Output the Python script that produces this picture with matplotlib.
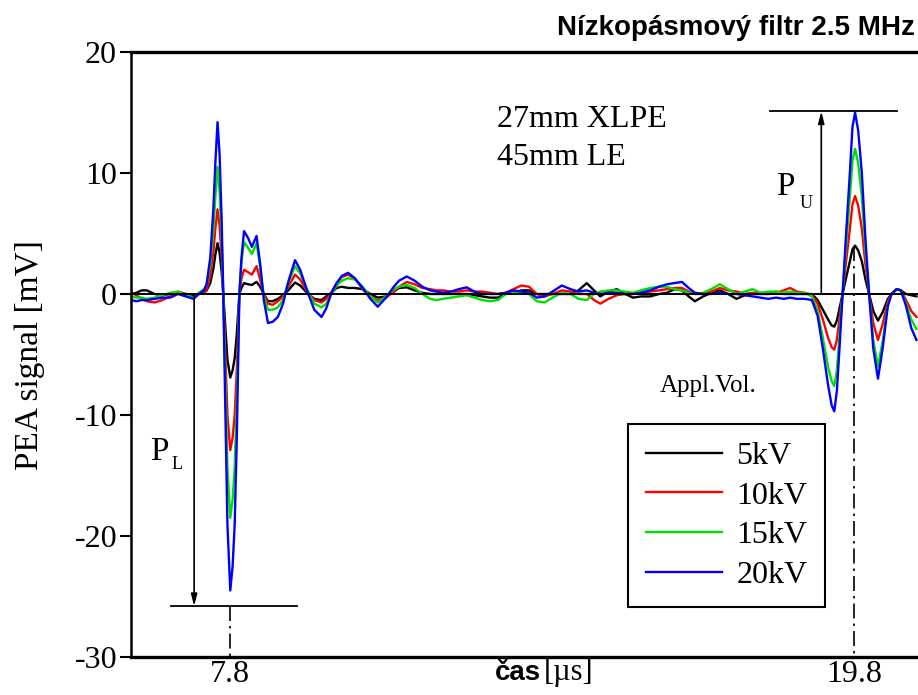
import matplotlib
matplotlib.use("Agg")
import matplotlib.pyplot as plt

plt.rcParams['axes.unicode_minus'] = False

# time axis [us], shared by all four traces
cas = [5.9, 6.0, 6.1, 6.2, 6.35, 6.5, 6.65, 6.8, 6.95, 7.1, 7.2, 7.3,
       7.35, 7.42, 7.48, 7.52, 7.56, 7.60, 7.64, 7.67,
       7.72, 7.75, 7.805, 7.85, 7.89, 7.93, 7.98,
       8.02, 8.07, 8.15, 8.22, 8.31, 8.38, 8.45, 8.53, 8.62, 8.72, 8.82, 8.92,
       9.05, 9.15, 9.28, 9.42, 9.56, 9.65, 9.75, 9.85, 9.95,
       10.07, 10.2, 10.35, 10.5, 10.64, 10.8, 10.95, 11.05, 11.2, 11.35, 11.5, 11.65, 11.77,
       11.9, 12.05, 12.2, 12.35, 12.5, 12.65, 12.8, 12.95, 13.1, 13.25,
       13.4, 13.55, 13.7, 13.85, 14.0, 14.18, 14.35, 14.5, 14.66, 14.8,
       14.92, 15.08, 15.24, 15.4, 15.55, 15.7, 15.88, 16.05, 16.2, 16.35,
       16.49, 16.62, 16.74, 16.9, 17.05, 17.22, 17.38, 17.54, 17.7, 17.85,
       18.0, 18.15, 18.3, 18.45, 18.57, 18.7, 18.85, 18.99,
       19.1, 19.2, 19.3, 19.37, 19.42, 19.47, 19.52, 19.58, 19.64, 19.72,
       19.77, 19.82, 19.88, 19.95, 20.02, 20.09, 20.17, 20.26, 20.35, 20.45,
       20.52, 20.62, 20.7, 20.8, 20.9, 21.0]

sig_5kv = [0.0, 0.1, 0.3, 0.3, 0.0, -0.1, 0.0, 0.1, 0.0, -0.1, 0.0, 0.1,
           0.3, 0.9, 2.1, 3.3, 4.2, 3.4, 1.8, 0.0,
           -3.4, -5.4, -6.9, -6.3, -5.3, -3.3, 0.0,
           0.5, 0.9, 0.8, 0.75, 1.0, 0.6, 0.0, -0.6, -0.6, -0.4, -0.1, 0.3,
           0.95, 0.7, 0.1, -0.4, -0.5, -0.2, 0.1, 0.5, 0.6,
           0.5, 0.5, 0.4, 0.0, -0.3, -0.2, 0.2, 0.5, 0.55, 0.3, 0.1, 0.0, 0.0,
           0.0, 0.0, 0.0, 0.0, -0.1, -0.2, -0.3, -0.3, 0.0, 0.1,
           0.3, 0.3, 0.0, 0.0, 0.0, 0.0, 0.0, 0.3, 0.9, 0.3,
           -0.2, 0.2, 0.4, 0.0, -0.3, -0.2, -0.2, 0.0, 0.1, 0.4,
           0.3, -0.2, -0.6, -0.2, 0.1, 0.3, 0.0, -0.4, -0.1, 0.0,
           0.0, 0.0, 0.2, 0.0, 0.0, 0.0, 0.0, 0.0,
           -0.5, -1.3, -2.1, -2.6, -2.7, -2.2, -1.2, 0.0, 1.2, 2.7,
           3.7, 4.0, 3.6, 2.7, 1.2, 0.0, -1.4, -2.2, -1.5, -0.4,
           0.0, 0.4, 0.3, 0.0, -0.1, -0.2]

sig_10kv = [0.1, -0.1, -0.4, -0.6, -0.7, -0.5, -0.2, 0.2, 0.0, -0.3, 0.0, 0.1,
            0.4, 1.5, 3.5, 5.5, 7.0, 5.6, 3.0, 0.0,
            -6.3, -10.0, -12.9, -11.9, -10.0, -6.3, 0.0,
            1.3, 2.0, 1.8, 1.6, 2.3, 1.2, 0.0, -0.8, -0.9, -0.6, -0.2, 0.6,
            1.6, 1.2, 0.2, -0.5, -0.7, -0.4, 0.1, 0.9, 1.4,
            1.6, 1.3, 0.4, -0.2, -0.55, -0.3, 0.2, 0.6, 1.0, 0.8, 0.5, 0.4, 0.3,
            0.3, 0.2, 0.2, 0.3, 0.2, 0.2, 0.1, 0.0, 0.1, 0.4,
            0.7, 0.6, 0.0, -0.2, 0.0, 0.3, 0.2, 0.0, 0.0, -0.5,
            -0.8, -0.4, -0.1, 0.0, 0.0, 0.1, 0.2, 0.3, 0.4, 0.5,
            0.5, 0.2, 0.0, 0.0, 0.2, 0.5, 0.3, 0.2, 0.0, 0.1,
            0.1, 0.0, 0.1, 0.3, 0.5, 0.2, 0.1, -0.1,
            -0.8, -2.1, -3.6, -4.4, -4.6, -3.8, -2.1, 0.0, 2.4, 5.4,
            7.4, 8.1, 7.3, 5.4, 2.4, 0.0, -2.4, -3.8, -2.5, -0.6,
            0.0, 0.4, 0.3, -0.5, -1.4, -1.9]

sig_15kv = [-0.2, -0.3, -0.3, -0.4, -0.3, -0.1, 0.1, 0.2, -0.1, -0.3, 0.1, 0.4,
            0.8, 2.4, 5.3, 8.2, 10.5, 8.5, 4.5, 0.0,
            -9.0, -14.3, -18.5, -17.0, -14.3, -9.0, 0.0,
            2.6, 4.3, 3.8, 3.3, 4.2, 2.2, -0.2, -1.3, -1.3, -1.1, -0.5, 0.9,
            2.3, 1.7, 0.4, -0.8, -1.1, -0.8, 0.0, 0.7, 1.1,
            1.3, 1.2, 0.6, -0.2, -0.7, -0.2, 0.4, 0.6, 0.75, 0.5, 0.0, -0.4, -0.5,
            -0.4, -0.3, -0.2, -0.1, -0.3, -0.5, -0.6, -0.5, 0.0, 0.1,
            0.2, 0.0, -0.6, -0.7, -0.3, 0.1, 0.0, -0.4, -0.5, 0.0,
            0.2, 0.3, 0.3, 0.2, 0.1, 0.3, 0.5, 0.6, 0.6, 0.4,
            0.3, 0.1, 0.0, 0.1, 0.4, 0.8, 0.4, 0.0, 0.2, 0.4,
            0.1, 0.2, 0.2, 0.1, 0.2, 0.1, 0.1, -0.2,
            -1.4, -3.6, -6.0, -7.2, -7.6, -6.3, -3.5, 0.0, 3.6, 8.0,
            11.0, 12.0, 10.8, 8.0, 3.6, 0.0, -3.8, -6.0, -3.9, -0.9,
            0.0, 0.4, 0.3, -0.8, -2.1, -2.9]

sig_20kv = [-0.5, -0.6, -0.5, -0.5, -0.4, -0.3, -0.3, 0.0, -0.2, -0.4, 0.0, 0.3,
            0.8, 3.0, 7.0, 11.0, 14.2, 11.5, 6.0, 0.0,
            -12.0, -19.0, -24.5, -22.5, -19.0, -12.0, 0.0,
            3.0, 5.2, 4.6, 3.9, 4.8, 2.5, -0.5, -2.4, -2.3, -1.9, -0.8, 1.0,
            2.8, 2.0, 0.3, -1.3, -1.9, -1.2, 0.1, 0.9, 1.5,
            1.75, 1.3, 0.5, -0.4, -1.05, -0.3, 0.6, 1.1, 1.45, 1.1, 0.6, 0.3, 0.2,
            0.1, 0.2, 0.4, 0.55, 0.2, 0.0, 0.0, 0.0, 0.1, 0.3,
            0.2, 0.1, -0.3, -0.2, 0.2, 0.7, 0.4, 0.2, 0.3, 0.1,
            0.0, 0.1, 0.1, 0.0, 0.0, 0.1, 0.3, 0.6, 0.8, 0.9,
            1.0, 0.5, 0.1, 0.0, 0.0, 0.1, 0.0, 0.0, -0.1, -0.2,
            -0.3, -0.4, -0.3, -0.4, -0.3, -0.4, -0.4, -0.5,
            -1.8, -4.5, -7.5, -9.2, -9.7, -8.0, -4.5, 0.0, 4.5, 10.0,
            13.8, 15.0, 13.5, 10.0, 4.5, 0.0, -4.5, -7.0, -4.5, -1.0,
            0.0, 0.4, 0.3, -1.0, -2.8, -3.8]

labels = ['5kV', '10kV', '15kV', '20kV']
colors = ['black', '#ff0000', '#00e000', '#0000ff']
series = [sig_5kv, sig_10kv, sig_15kv, sig_20kv]

# P_L / P_U markers and the applied-voltage lines
t_low, t_up = 7.8, 19.8
p_l_level, p_u_level = -25.8, 15.1
p_l_x, p_u_x = 7.11, 19.17

serif = 'Liberation Serif'
sans = 'Liberation Sans'

fig = plt.figure(figsize=(9.18, 6.95), dpi=100)
ax = fig.add_axes([131/918, 1 - 657/695, 1 - 131/918, (657 - 52)/695])

for y, c, lab in zip(series, colors, labels):
    ax.plot(cas, y, color=c, lw=1.7, label=lab, solid_joinstyle='round')

ax.axhline(0, color='black', lw=1.4, zorder=4)

# dash-dot lines at 7.8 and 19.8
dd = (0, (9, 3, 1.5, 3))
ax.plot([t_low, t_low], [p_l_level, -30], color='black', lw=1.2, ls=dd)
ax.plot([t_up, t_up], [4.0, -30], color='black', lw=1.2, ls=dd)

# P_L
ax.plot([6.67, 9.09], [p_l_level, p_l_level], color='black', lw=1.3)
ax.annotate('', xy=(p_l_x, p_l_level), xytext=(p_l_x, 0),
            arrowprops=dict(arrowstyle='-|>,head_width=0.18,head_length=0.7',
                            color='black', lw=1.2, shrinkA=0, shrinkB=0))
ax.text(6.26, -13.06, 'P', fontsize=24, family=serif, ha='left', va='center')
ax.text(6.68, -14.1, 'L', fontsize=13, family=serif, ha='left', va='center')

# P_U
ax.plot([18.18, 20.63], [p_u_level, p_u_level], color='black', lw=1.3)
ax.annotate('', xy=(p_u_x, p_u_level), xytext=(p_u_x, 0),
            arrowprops=dict(arrowstyle='-|>,head_width=0.18,head_length=0.7',
                            color='black', lw=1.2, shrinkA=0, shrinkB=0))
ax.text(18.3, 8.9, 'P', fontsize=24, family=serif, ha='left', va='center')
ax.text(18.76, 7.5, 'U', fontsize=13, family=serif, ha='left', va='center')

ax.text(12.93, 14.4, '27mm XLPE', fontsize=23, family=serif, ha='left', va='center')
ax.text(12.93, 11.3, '45mm LE', fontsize=23, family=serif, ha='left', va='center')
ax.text(16.07, -7.6, 'Appl.Vol.', fontsize=18, family=serif, ha='left', va='center')

ax.set_xlim(5.896, 21.03)
ax.set_ylim(-30, 20)
ax.set_yticks([-30, -20, -10, 0, 10, 20])
ax.set_xticks([t_low, t_up])
ax.set_xticklabels(['7.8', '19.8'])
for lab in ax.get_xticklabels() + ax.get_yticklabels():
    lab.set_fontfamily(serif)
    lab.set_fontsize(23)
ax.tick_params(axis='y', direction='out', length=8, width=1.5, pad=2)
ax.tick_params(axis='x', length=0, pad=2)

ax.spines['right'].set_visible(False)
ax.spines['top'].set_linewidth(2.4)
ax.spines['bottom'].set_linewidth(2.4)
ax.spines['left'].set_linewidth(1.8)

leg = ax.legend(loc='upper left', bbox_to_anchor=(628/918, 1 - 424/695),
                bbox_transform=fig.transFigure, prop={'family': serif, 'size': 23},
                frameon=True, fancybox=False, framealpha=1, edgecolor='black',
                handlelength=2.4, handletextpad=0.45, labelspacing=0.32,
                borderpad=0.55, borderaxespad=0)
leg.get_frame().set_linewidth(1.5)

# x label: bold sans "čas" + serif unit
ax.text(13.78, -0.026, 'čas', transform=ax.get_xaxis_transform(), fontsize=20,
        family=sans, weight='bold', ha='right', va='center')
ax.text(13.84, -0.026, '[µs]', transform=ax.get_xaxis_transform(), fontsize=22,
        family=serif, ha='left', va='center')

fig.text(30/918, 1 - 355/695, 'PEA signal [mV]', rotation=90, fontsize=24,
         family=serif, ha='center', va='center')
fig.text(915/918, 1 - 28/695, 'Nízkopásmový filtr 2.5 MHz', fontsize=20,
         family=sans, weight='bold', ha='right', va='center')

fig.savefig('out.png', dpi=100)
